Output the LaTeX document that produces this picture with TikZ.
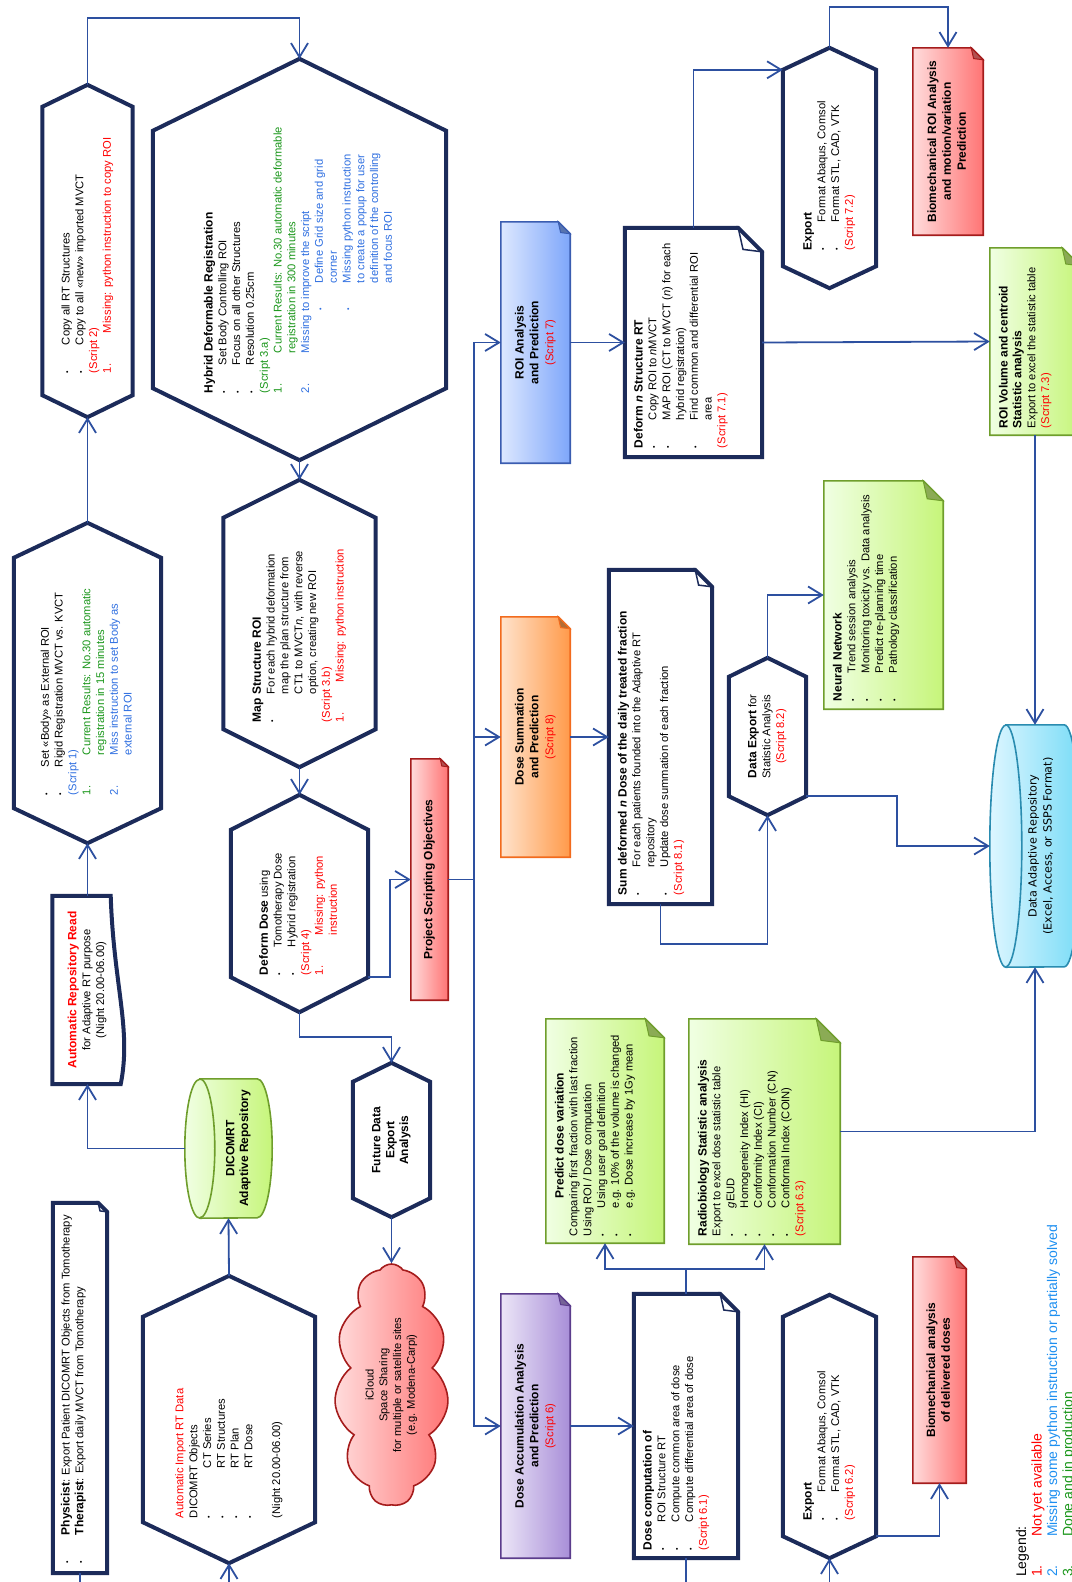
\documentclass[tikz,border=0pt]{standalone}
\usepackage{fontspec}
\setmainfont{Liberation Sans}[BoldFeatures={Scale=1.07}]
\newfontfamily\widefont{DejaVu Sans}
\usepackage{graphicx}
\usetikzlibrary{arrows.meta,shapes.symbols,backgrounds}

\definecolor{navy}{HTML}{1C2B5A}
\definecolor{connblue}{HTML}{2D50A0}
\definecolor{txtred}{HTML}{FF0000}
\definecolor{txtgreen}{HTML}{1A961A}
\definecolor{txtblue}{HTML}{2F6FE0}
\definecolor{legblue}{HTML}{1E8FF0}
\definecolor{blueL}{HTML}{DDE8FF}\definecolor{blueR}{HTML}{7EA6FA}\definecolor{blueline}{HTML}{3A5CB0}
\definecolor{orangeL}{HTML}{FFE3CC}\definecolor{orangeR}{HTML}{FF9A4A}\definecolor{orangeline}{HTML}{F26B1D}
\definecolor{redL}{HTML}{FFDCDC}\definecolor{redR}{HTML}{FF7474}\definecolor{redline}{HTML}{A51C1C}
\definecolor{purpL}{HTML}{ECE6F7}\definecolor{purpR}{HTML}{A88ED8}\definecolor{purpline}{HTML}{5B3C8C}
\definecolor{greenL}{HTML}{F0FFE3}\definecolor{greenR}{HTML}{C6F57A}\definecolor{greenline}{HTML}{6F9E2C}
\definecolor{cyanL}{HTML}{DDF6FF}\definecolor{cyanR}{HTML}{7ADCF7}\definecolor{cyanline}{HTML}{2A8CB0}

% text helpers
\newcommand\bul[1][28pt]{\makebox[#1][l]{\fontsize{7}{7}\selectfont\textbullet}}
\newcommand\numi[1]{\makebox[40pt][l]{#1}}
\newcommand\tabi[1][28pt]{\hspace*{#1}}
\newcommand\rd[1]{\textcolor{txtred}{#1}}
\newcommand\gn[1]{\textcolor{txtgreen}{#1}}
\newcommand\bl[1]{\textcolor{txtblue}{#1}}
% rotated text blocks (text runs bottom to top)
\newcommand\ctext[1]{\rotatebox{90}{\begin{tabular}{@{}c@{}}#1\end{tabular}}}
\newcommand\ltext[2]{\rotatebox{90}{\parbox{#1}{\begin{tabular}{@{}l@{}}#2\end{tabular}}}}
\newcommand\ttext[3]{\rotatebox{90}{\parbox[c][#2][t]{#1}{\begin{tabular}[t]{@{}l@{}}#3\end{tabular}}}}
% outlines
\newcommand\hexout[2]{\draw[hexline] (#1.north) -- ([yshift=-#2]#1.north east) -- ([yshift=#2]#1.south east)
  -- (#1.south) -- ([yshift=#2]#1.south west) -- ([yshift=-#2]#1.north west) -- cycle;}
\newcommand\noteout[4]{\path[#3] (#1.south west) -- (#1.north west) -- ([xshift=-#2]#1.north east)
  -- ([yshift=-#2]#1.north east) -- (#1.south east) -- cycle;
  \path[#4] ([xshift=-#2]#1.north east) -- ([xshift=-0.8*#2,yshift=-0.9*#2]#1.north east)
  -- ([yshift=-#2]#1.north east) -- cycle;}
\newcommand\shadednote[3]{\begin{scope}[on background layer]\noteout{#1}{#2}{boxfill=#3}{foldfill=#3}\end{scope}}
% lying cylinder, end face on the left
\newcommand\cylout[4]{\begin{scope}[on background layer]
  \path[boxfill=#4] ([xshift=#2]#1.north west) -- ([xshift=-#2]#1.north east)
    arc[start angle=90, end angle=-90, x radius=#2, y radius=#3] -- ([xshift=#2]#1.south west)
    arc[start angle=270, end angle=90, x radius=#2, y radius=#3] -- cycle;
  \draw[draw=#4line, line width=1.6pt] ([xshift=#2]#1.north west)
    arc[start angle=90, end angle=-90, x radius=#2, y radius=#3];
  \end{scope}}

\begin{document}
\begin{tikzpicture}[x=1pt, y=-1pt,
    every node/.style={font=\fontsize{11.2}{13.8}\selectfont, inner sep=0pt},
    hexline/.style={draw=navy, line width=4pt, line join=miter},
    docline/.style={draw=navy, line width=4pt},
    docfold/.style={draw=navy, line width=1.5pt},
    conn/.style={draw=connblue, line width=1.8pt, -{Straight Barb[length=14pt,width=17pt]}},
    boxfill/.style={draw=#1line, line width=1.6pt, left color=#1L, right color=#1R},
    foldfill/.style={draw=#1line, line width=1pt, fill=#1R!70!black},
    scriptbox/.style={font=\fontsize{11.2}{14.8}\selectfont\bfseries}
  ]
  \useasboundingbox (0,0) rectangle (1071,1582);

  % first column: import and rigid registration
  \node[minimum width=54pt, minimum height=370pt] (phys) at (80,1388)
    {\ttext{350pt}{40pt}{\bul\textbf{Physicist}: Export Patient DICOMRT Objects from Tomotherapy\\
      \bul\textbf{Therapist}: Export daily MVCT from Tomotherapy}};
  \noteout{phys}{9pt}{docline}{docfold}

  \node[minimum width=172pt, minimum height=287pt] (aimp) at (229,1419.5)
    {\ltext{197pt}{\rd{Automatic Import RT Data}\\ DICOMRT Objects\\
      \bul[50pt]CT Series\\ \bul[50pt]RT Structures\\ \bul[50pt]RT Plan\\ \bul[50pt]RT Dose\\ \\
      (Night 20.00-06.00)}};
  \hexout{aimp}{41pt}

  \node[minimum width=87pt, minimum height=139pt] (dicom) at (228.5,1148.5)
    {\ctext{\\[6pt] \textbf{DICOMRT}\\ \textbf{Adaptive Repository}}};
  \cylout{dicom}{15pt}{69.5pt}{green}

  \node[minimum width=70pt, minimum height=188pt] (arr) at (87.5,990)
    {\ctext{\rd{\textbf{Automatic Repository Read}}\\ for Adaptive RT purpose\\ (Night 20.00-06.00)}};
  \draw[docline] (arr.south west) -- (arr.north west) -- ([xshift=-12pt]arr.north east)
    .. controls ([xshift=-9pt,yshift=-90pt]arr.north east) and ([xshift=9pt,yshift=55pt]arr.south east)
    .. ([xshift=-2pt]arr.south east) -- cycle;

  \node[minimum width=147pt, minimum height=320pt] (setb) at (87.5,683)
    {\ltext{224pt}{\bul Set «Body» as External ROI\\ \bul Rigid Registration MVCT vs. KVCT\\
      \bl{(Script 1)}\\ \gn{\numi{1.}Current Results: No.30 automatic}\\
      \gn{\tabi[40pt]registration in 15 minutes}\\ \bl{\numi{2.}Miss instruction to set Body as}\\
      \bl{\tabi[40pt]external ROI}}};
  \hexout{setb}{35pt}

  \node[minimum width=90pt, minimum height=332pt] (cpy) at (87.5,251)
    {\ltext{244pt}{\bul Copy all RT Structures\\ \bul Copy to all «new» imported MVCT\\
      \rd{(Script 2)}\\ \rd{\numi{1.}Missing: python instruction to copy ROI}}};
  \hexout{cpy}{22pt}

  % second column: deformable registration
  \node[minimum width=293pt, minimum height=401pt] (hyb) at (299.5,259.5)
    {\ltext{267pt}{\textbf{Hybrid Deformable Registration}\\ \bul Set Body Controlling ROI\\
      \bul Focus on all other Structures\\ \bul Resolution 0.25cm\\ \gn{(Script 3.a)}\\
      \gn{\numi{1.}Current Results: No.30 automatic deformable}\\
      \gn{\tabi[40pt]registration in 300 minutes}\\
      \bl{\numi{2.}Missing to improve the script}\\
      \bl{\tabi[83pt]\bul[27pt]Define Grid size and grid}\\ \bl{\tabi[110pt]corner}\\
      \bl{\tabi[83pt]\bul[27pt]Missing python instruction}\\ \bl{\tabi[110pt]to create a popup for user}\\
      \bl{\tabi[110pt]definition of the controlling}\\ \bl{\tabi[110pt]and focus ROI}}};
  \hexout{hyb}{72pt}

  \node[minimum width=152pt, minimum height=287pt] (map) at (299.5,623.5)
    {\ltext{197pt}{\textbf{Map Structure ROI}\\ \bul For each hybrid deformation\\
      \tabi map the plan structure from\\ \tabi CT1 to MVCT\textit{n},\, with reverse\\
      \tabi option, creating new ROI\\ \rd{(Script 3.b)}\\ \rd{\numi{1.}Missing: python instruction}}};
  \hexout{map}{38pt}

  \node[minimum width=137pt, minimum height=217pt] (ddose) at (299.5,903.5)
    {\ltext{143pt}{\textbf{Deform Dose} using\\ \bul Tomotherapy Dose\\ \bul Hybrid registration\\
      \rd{(Script 4)}\\ \rd{\numi{1.}Missing: python}\\ \rd{\tabi[40pt]instruction}}};
  \hexout{ddose}{35pt}

  \node[minimum width=77pt, minimum height=154pt] (fut) at (391.5,1140)
    {\ctext{\textbf{Future Data}\\ \textbf{Export}\\ \textbf{Analysis}}};
  \hexout{fut}{19pt}

  \node[cloud, cloud puffs=11, cloud puff arc=110, cloud ignores aspect, draw=redline, line width=1.6pt,
    left color=redL, right color=redR, minimum width=114pt, minimum height=242pt] (icloud) at (391.5,1385)
    {\ctext{iCloud\\ Space Sharing\\ for multiple or satellite sites\\ (e.g. Modena-Carpi)}};

  % scripting objectives and script boxes
  \node[scriptbox, minimum width=37pt, minimum height=241pt] (proj) at (429.5,879.5)
    {\ctext{Project Scripting Objectives}};
  \shadednote{proj}{8pt}{red}

  \node[scriptbox, minimum width=69pt, minimum height=241pt] (roi) at (535.5,342.5)
    {\ctext{ROI Analysis\\ and Prediction\\ \mdseries\rd{(Script 7)}}};
  \shadednote{roi}{12pt}{blue}

  \node[scriptbox, minimum width=69pt, minimum height=240pt] (dsum) at (535.5,737)
    {\ctext{Dose Summation\\ and Prediction\\ \mdseries\rd{(Script 8)}}};
  \shadednote{dsum}{12pt}{orange}

  \node[scriptbox, minimum width=69pt, minimum height=264pt] (dacc) at (535.5,1426)
    {\ctext{Dose Accumulation Analysis\\ and Prediction\\ \mdseries\rd{(Script 6)}}};
  \shadednote{dacc}{12pt}{purp}

  % script details
  \node[minimum width=137pt, minimum height=229pt] (dn) at (693.5,342.5)
    {\ttext{211pt}{121pt}{\textbf{Deform \textit{n} Structure RT}\\ \bul Copy ROI to \textit{n}MVCT\\
      \bul MAP ROI (CT to MVCT (\textit{n}) for each\\ \tabi hybrid registration)\\
      \bul Find common and differential ROI\\ \tabi area\\ \rd{(Script 7.1)}}};
  \noteout{dn}{24pt}{docline}{docfold}

  \node[minimum width=103pt, minimum height=334pt] (sumd) at (660.5,737)
    {\ttext{316pt}{87pt}{\textbf{Sum deformed \textit{n} Dose of the daily treated fraction}\\
      \bul For each patients founded into the Adaptive RT\\ \tabi repository\\
      \bul Update dose summation of each fraction\\ \rd{(Script 8.1)}}};
  \noteout{sumd}{17pt}{docline}{docfold}

  \node[minimum width=104pt, minimum height=264pt] (dcomp) at (686,1426)
    {\ttext{248pt}{88pt}{\textbf{Dose computation of}\\ \bul ROI Structure RT\\
      \bul Compute common area of dose\\ \bul Compute differential area of dose\\ \rd{(Script 6.1)}}};
  \noteout{dcomp}{18pt}{docline}{docfold}

  \node[minimum width=118pt, minimum height=224pt] (pred) at (605,1131)
    {\ttext{210pt}{102pt}{\multicolumn{1}{c}{\textbf{Predict dose variation}}\\
      Comparing first fraction with last fraction\\ Using ROI / Dose computation\\
      \bul Using user goal definition\\ \bul e.g. 10\% of the volume is changed\\
      \bul e.g. Dose increase by 1Gy mean}};
  \shadednote{pred}{19pt}{green}

  \node[minimum width=151pt, minimum height=225pt] (radio) at (764.5,1131.5)
    {\ttext{209pt}{135pt}{\textbf{Radiobiology Statistic analysis}\\ Export to excel dose statistic table\\
      \bul\textit{g}EUD\\ \bul Homogeneity Index (HI)\\ \bul Conformity Index (CI)\\
      \bul Conformation Number (CN)\\ \bul Conformal Index (COIN)\\ \rd{(Script 6.3)}}};
  \shadednote{radio}{24pt}{green}

  \node[minimum width=77pt, minimum height=157pt] (dexp) at (767.5,736.5)
    {\ctext{\textbf{Data Export} for\\ Statistic Analysis\\ \rd{(Script 8.2)}}};
  \hexout{dexp}{19pt}

  \node[minimum width=119pt, minimum height=228pt] (nn) at (883.5,595)
    {\ttext{212pt}{103pt}{\textbf{Neural Network}\\ \bul Trend session analysis\\
      \bul Monitoring toxicity vs. Data analysis\\ \bul Predict re-planning time\\
      \bul Pathology classification}};
  \shadednote{nn}{20pt}{green}

  \node[minimum width=93pt, minimum height=240pt] (exp72) at (829.5,168)
    {\ltext{164pt}{\textbf{Export}\\ \bul Format Abaqus, Comsol\\ \bul Format STL, CAD, VTK\\ \rd{(Script 7.2)}}};
  \hexout{exp72}{22pt}

  \node[minimum width=93pt, minimum height=263pt] (exp62) at (829.5,1426.5)
    {\ltext{187pt}{\textbf{Export}\\ \bul Format Abaqus, Comsol\\ \bul Format STL, CAD, VTK\\ \rd{(Script 6.2)}}};
  \hexout{exp62}{22pt}

  \node[scriptbox, minimum width=70pt, minimum height=187pt] (bioroi) at (948,141.5)
    {\ctext{Biomechanical ROI Analysis\\ and motion/variation\\ Prediction}};
  \shadednote{bioroi}{12pt}{red}

  \node[scriptbox, minimum width=53pt, minimum height=226pt] (biodel) at (939.5,1370)
    {\ctext{Biomechanical analysis\\ of delivered doses}};
  \shadednote{biodel}{12pt}{red}

  \node[minimum width=90pt, minimum height=187pt] (roivol) at (1035,341.5)
    {\ttext{173pt}{74pt}{\textbf{ROI Volume and centroid}\\ \textbf{Statistic analysis}\\
      Export to excel the statistic table\\ \rd{(Script 7.3)}}};
  \shadednote{roivol}{18pt}{green}

  \node[minimum width=90pt, minimum height=242pt] (darep) at (1035,846)
    {\rotatebox{90}{\widefont\fontsize{11.2}{15}\selectfont
      \begin{tabular}{@{}c@{}}\\[-3pt] Data Adaptive Repository\\ (Excel, Access, or SSPS Format)\end{tabular}}};
  \cylout{darep}{16pt}{121pt}{cyan}

  \node[anchor=south west] (legend) at (1015,1577)
    {\rotatebox{90}{\fontsize{14}{15.5}\selectfont\begin{tabular}{@{}l@{}}Legend:\\
      \rd{\numi{1.}Not yet available}\\ \textcolor{legblue}{\numi{2.}Missing some python instruction or partially solved}\\
      \gn{\numi{3.}Done and in production}\end{tabular}}};

  % connectors
  \draw[conn] (phys.south) -- ++(0,30) -| (aimp.south);
  \draw[conn] (aimp.north) -- (dicom.south);
  \draw[conn] (dicom.west) -| (arr.south);
  \draw[conn] (arr.north) -- (setb.south);
  \draw[conn] (setb.north) -- (cpy.south);
  \draw[conn] (cpy.north) -- ++(0,-67) -| (hyb.north);
  \draw[conn] (hyb.south) -- (map.north);
  \draw[conn] (map.south) -- (ddose.north);
  \draw[conn] ([yshift=35pt]ddose.south east) -- ++(22,0) |- (proj.west);
  \draw[conn] (ddose.south) -- ++(0,25) -| (fut.north);
  \draw[conn] (fut.south) -- (icloud.north);
  \coordinate (bus) at (474,879.5);
  \draw[conn] (proj.east) -- (bus) |- (roi.west);
  \draw[conn] (bus) |- (dsum.west);
  \draw[conn] (bus) |- (dacc.west);
  \draw[conn] (roi.east) -- (dn.west);
  \draw[conn] (dsum.east) -- (sumd.west);
  \draw[conn] (dacc.east) -- (dcomp.west);
  \draw[conn] (dn.north) |- ([yshift=-22pt]exp72.north west);
  \draw[conn] (dn.east) -- (roivol.west);
  \draw[conn] (exp72.north) -- ++(0,-41) -| (bioroi.north);
  \draw[conn] (roivol.south) -- (darep.north);
  \draw[conn] (sumd.south) -- ++(0,40) -| (dexp.south);
  \draw[conn] (dexp.north) |- (nn.west);
  \draw[conn] ([yshift=19pt]dexp.south east) -- ++(91,0) |- (darep.west);
  \draw[conn] (dcomp.north) -- ++(0,-25) -| (pred.south);
  \draw[conn] (dcomp.north) -- ++(0,-25) -| (radio.south);
  \draw[conn] (radio.east) -| (darep.south);
  \draw[conn] (dcomp.south) -- ++(0,40) -| (exp62.south);
  \draw[conn] ([yshift=22pt]exp62.south east) -| (biodel.south);
\end{tikzpicture}
\end{document}
